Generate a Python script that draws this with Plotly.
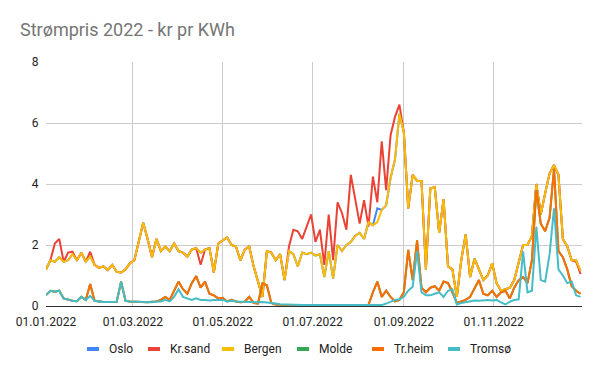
import pandas as pd
import plotly.graph_objects as go

# Sample dates: every third day of 2022
dates = pd.date_range("2022-01-01", periods=122, freq="3D")

series_names = ["Oslo", "Kr.sand", "Bergen", "Molde", "Tr.heim", "Tromsø"]
tick_dates = ["2022-01-01", "2022-03-01", "2022-05-01", "2022-07-01", "2022-09-01", "2022-11-01"]
tick_labels = ["01.01.2022", "01.03.2022", "01.05.2022", "01.07.2022", "01.09.2022", "01.11.2022"]

bergen = [
    1.20, 1.50, 1.45, 1.60, 1.45, 1.50, 1.70, 1.50, 1.75, 1.45,
    1.62, 1.35, 1.25, 1.30, 1.18, 1.35, 1.12, 1.10, 1.20, 1.40,
    1.50, 2.10, 2.73, 2.20, 1.60, 2.20, 1.80, 1.95, 1.80, 2.05,
    1.80, 1.75, 1.62, 1.85, 1.90, 1.75, 1.85, 1.90, 1.10, 2.05,
    2.15, 2.25, 2.00, 1.95, 1.50, 1.85, 1.95, 1.30, 0.80, 0.30,
    1.80, 1.75, 1.50, 1.70, 0.85, 1.80, 1.70, 1.30, 1.75, 1.70,
    1.75, 1.65, 1.70, 0.95, 1.80, 0.90, 2.00, 1.80, 2.00, 2.10,
    2.30, 2.40, 2.20, 2.75, 2.65, 2.75, 3.15, 3.30, 4.20, 4.80,
    6.30, 5.70, 3.20, 4.30, 4.10, 4.10, 1.20, 3.85, 3.90, 2.40,
    3.50, 1.30, 1.20, 0.30, 1.50, 2.35, 0.95, 1.55, 1.20, 0.85,
    1.00, 1.40, 0.75, 0.50, 0.55, 0.60, 0.85, 1.40, 2.00, 2.00,
    2.30, 4.00, 3.00, 3.70, 4.35, 4.62, 4.30, 2.20, 1.95, 1.50,
    1.50, 1.15,
]

krsand = [
    1.20, 1.50, 2.05, 2.20, 1.45, 1.75, 1.78, 1.50, 1.75, 1.45,
    1.78, 1.35, 1.25, 1.30, 1.18, 1.35, 1.12, 1.10, 1.20, 1.40,
    1.50, 2.10, 2.73, 2.20, 1.60, 2.20, 1.80, 1.95, 1.80, 2.05,
    1.80, 1.75, 1.62, 1.85, 1.90, 1.35, 1.85, 1.90, 1.10, 2.05,
    2.15, 2.25, 2.00, 1.95, 1.50, 1.85, 1.95, 1.30, 0.80, 0.30,
    1.80, 1.75, 1.50, 1.70, 0.85, 1.95, 2.50, 2.45, 2.20, 2.60,
    3.00, 2.10, 2.50, 1.35, 3.00, 1.50, 3.40, 3.05, 2.50, 4.30,
    3.50, 2.70, 3.47, 2.60, 4.24, 3.40, 5.40, 3.80, 5.60, 6.20,
    6.60, 5.70, 3.20, 4.30, 4.10, 4.10, 1.20, 3.85, 3.90, 2.40,
    3.50, 1.30, 1.20, 0.30, 1.50, 2.35, 0.95, 1.55, 1.20, 0.85,
    1.00, 1.40, 0.75, 0.50, 0.55, 0.60, 0.85, 1.40, 2.00, 2.00,
    2.30, 4.00, 3.00, 3.70, 4.35, 4.62, 4.30, 2.20, 1.95, 1.50,
    1.45, 1.05,
]

oslo = [
    1.20, 1.50, 1.45, 1.60, 1.45, 1.50, 1.70, 1.50, 1.75, 1.45,
    1.62, 1.35, 1.25, 1.30, 1.18, 1.35, 1.12, 1.10, 1.20, 1.40,
    1.50, 2.10, 2.73, 2.20, 1.60, 2.20, 1.80, 1.95, 1.80, 2.05,
    1.80, 1.75, 1.62, 1.85, 1.90, 1.75, 1.85, 1.90, 1.10, 2.05,
    2.15, 2.25, 2.00, 1.95, 1.50, 1.85, 1.95, 1.30, 0.80, 0.30,
    1.80, 1.75, 1.50, 1.70, 0.85, 1.80, 1.70, 1.30, 1.75, 1.70,
    1.75, 1.65, 1.70, 0.95, 1.80, 0.90, 2.00, 1.80, 2.00, 2.10,
    2.30, 2.40, 2.20, 2.75, 2.65, 3.20, 3.15, 3.30, 4.20, 4.80,
    6.30, 5.70, 3.20, 4.30, 4.10, 4.10, 1.20, 3.85, 3.90, 2.40,
    3.50, 1.30, 1.20, 0.30, 1.50, 2.35, 0.95, 1.55, 1.20, 0.85,
    1.00, 1.40, 0.75, 0.50, 0.55, 0.60, 0.85, 1.40, 2.00, 2.00,
    2.30, 4.00, 3.00, 3.70, 4.35, 4.62, 4.30, 2.20, 1.95, 1.50,
    1.50, 1.15,
]

trheim = [
    0.36, 0.50, 0.47, 0.50, 0.25, 0.20, 0.17, 0.16, 0.30, 0.20,
    0.72, 0.17, 0.14, 0.13, 0.13, 0.13, 0.14, 0.80, 0.17, 0.15,
    0.14, 0.13, 0.13, 0.12, 0.14, 0.15, 0.20, 0.30, 0.20, 0.50,
    0.80, 0.55, 0.40, 0.75, 0.98, 0.60, 0.80, 0.40, 0.35, 0.25,
    0.27, 0.15, 0.20, 0.15, 0.12, 0.14, 0.30, 0.10, 0.08, 0.74,
    0.68, 0.10, 0.05, 0.04, 0.03, 0.03, 0.03, 0.03, 0.03, 0.03,
    0.03, 0.03, 0.03, 0.03, 0.03, 0.03, 0.03, 0.03, 0.03, 0.03,
    0.03, 0.03, 0.03, 0.03, 0.45, 0.80, 0.30, 0.50, 0.30, 0.15,
    0.20, 0.45, 1.84, 0.85, 2.15, 0.60, 0.45, 0.60, 0.65, 0.50,
    0.80, 0.75, 0.45, 0.10, 0.15, 0.20, 0.30, 0.60, 0.85, 0.40,
    0.35, 0.50, 0.30, 0.45, 0.50, 0.25, 0.60, 0.85, 0.95, 0.75,
    1.50, 3.80, 2.70, 2.45, 2.90, 4.50, 1.80, 1.60, 1.20, 0.65,
    0.50, 0.40,
]

molde = [
    0.36, 0.50, 0.47, 0.50, 0.25, 0.20, 0.17, 0.16, 0.30, 0.20,
    0.72, 0.17, 0.14, 0.13, 0.13, 0.13, 0.14, 0.80, 0.17, 0.15,
    0.14, 0.13, 0.13, 0.12, 0.14, 0.15, 0.20, 0.30, 0.20, 0.50,
    0.80, 0.55, 0.40, 0.75, 0.98, 0.60, 0.80, 0.40, 0.35, 0.25,
    0.27, 0.15, 0.20, 0.15, 0.12, 0.14, 0.30, 0.10, 0.08, 0.74,
    0.68, 0.10, 0.05, 0.04, 0.03, 0.03, 0.03, 0.03, 0.03, 0.03,
    0.03, 0.03, 0.03, 0.03, 0.03, 0.03, 0.03, 0.03, 0.03, 0.03,
    0.03, 0.03, 0.03, 0.03, 0.45, 0.80, 0.30, 0.50, 0.30, 0.15,
    0.20, 0.45, 1.84, 0.85, 2.15, 0.60, 0.45, 0.60, 0.65, 0.50,
    0.80, 0.75, 0.45, 0.10, 0.15, 0.20, 0.30, 0.60, 0.85, 0.40,
    0.35, 0.50, 0.30, 0.45, 0.50, 0.25, 0.60, 0.85, 0.95, 0.75,
    1.50, 3.80, 2.70, 2.45, 2.90, 4.50, 1.80, 1.60, 1.20, 0.65,
    0.50, 0.40,
]

tromso = [
    0.36, 0.50, 0.47, 0.50, 0.25, 0.20, 0.17, 0.16, 0.30, 0.20,
    0.33, 0.17, 0.14, 0.13, 0.13, 0.13, 0.14, 0.80, 0.17, 0.15,
    0.14, 0.13, 0.12, 0.13, 0.12, 0.15, 0.15, 0.20, 0.15, 0.30,
    0.55, 0.30, 0.25, 0.20, 0.25, 0.20, 0.20, 0.18, 0.20, 0.20,
    0.20, 0.15, 0.17, 0.15, 0.14, 0.15, 0.14, 0.12, 0.12, 0.13,
    0.12, 0.10, 0.08, 0.06, 0.05, 0.04, 0.04, 0.04, 0.03, 0.03,
    0.03, 0.03, 0.03, 0.03, 0.03, 0.03, 0.03, 0.03, 0.03, 0.03,
    0.03, 0.03, 0.03, 0.03, 0.03, 0.03, 0.03, 0.08, 0.15, 0.20,
    0.22, 0.30, 0.50, 0.63, 1.80, 0.45, 0.35, 0.35, 0.40, 0.45,
    0.30, 0.50, 0.55, 0.05, 0.10, 0.13, 0.15, 0.18, 0.17, 0.18,
    0.20, 0.18, 0.20, 0.12, 0.05, 0.14, 0.20, 0.22, 1.78, 0.45,
    0.50, 2.60, 0.85, 0.80, 1.70, 3.20, 1.20, 1.00, 0.75, 0.80,
    0.35, 0.30,
]

values = [oslo, krsand, bergen, molde, trheim, tromso]
colors = ["#4285F4", "#EA4335", "#FBBC04", "#34A853", "#FF6D01", "#46BDC6"]

# Figure geometry (pixels)
W, H = 600, 371
ML, MR, MT, MB = 46, 18, 62, 65
PW, PH = W - ML - MR, H - MT - MB

fig = go.Figure()
for name, vals, col in zip(series_names, values, colors):
    fig.add_trace(go.Scatter(x=dates, y=vals, mode="lines", name=name,
                             line=dict(color=col, width=2), showlegend=False,
                             hoverinfo="skip"))

# Legend drawn as small colour bars + labels (Google Sheets style)
legend_px = [87, 148, 222, 297, 372, 448]   # left edge of each swatch
legend_y = 349
def px_x(px):
    return (px - ML) / PW
def px_y(py):
    return (H - MB - py) / PH
for name, col, lx in zip(series_names, colors, legend_px):
    fig.add_shape(type="rect", xref="paper", yref="paper",
                  x0=px_x(lx), x1=px_x(lx + 12), y0=px_y(legend_y + 2), y1=px_y(legend_y - 2),
                  fillcolor=col, line=dict(width=0))
    fig.add_annotation(text=name, xref="paper", yref="paper", x=px_x(lx + 20), y=px_y(legend_y),
                       xanchor="left", yanchor="middle", showarrow=False,
                       font=dict(size=12, color="#222222"))

fig.update_layout(
    width=W, height=H,
    margin=dict(l=ML, r=MR, t=MT, b=MB),
    paper_bgcolor="white", plot_bgcolor="white",
    font=dict(family="Roboto, Arial, sans-serif", size=12, color="#222222"),
    title=dict(text="Strømpris 2022 - kr pr KWh", x=20 / W, xref="container", xanchor="left",
               y=1 - 30 / H, yref="container", yanchor="middle",
               font=dict(size=18, color="#757575", family="Roboto, Arial, sans-serif")),
    showlegend=False,
    hovermode=False,
)
fig.update_xaxes(type="date", range=["2022-01-01", "2022-12-31"],
                 tickvals=tick_dates, ticktext=tick_labels,
                 showgrid=True, gridcolor="#cccccc", gridwidth=1,
                 showline=True, linecolor="#333333", linewidth=1,
                 ticks="outside", ticklen=5, tickcolor="rgba(0,0,0,0)",
                 tickfont=dict(size=12, color="#222222"), automargin=False)
fig.update_yaxes(range=[0, 8], tickvals=[0, 2, 4, 6, 8],
                 showgrid=True, gridcolor="#cccccc", gridwidth=1,
                 zeroline=False, showline=False,
                 ticks="outside", ticklen=4, tickcolor="rgba(0,0,0,0)",
                 tickfont=dict(size=12, color="#222222"), automargin=False)

# Remove the default page margin so the 600x371 figure fills the window exactly
fig.write_html("out.html", config={"displayModeBar": False},
               post_script="document.body.style.margin='0px';")
